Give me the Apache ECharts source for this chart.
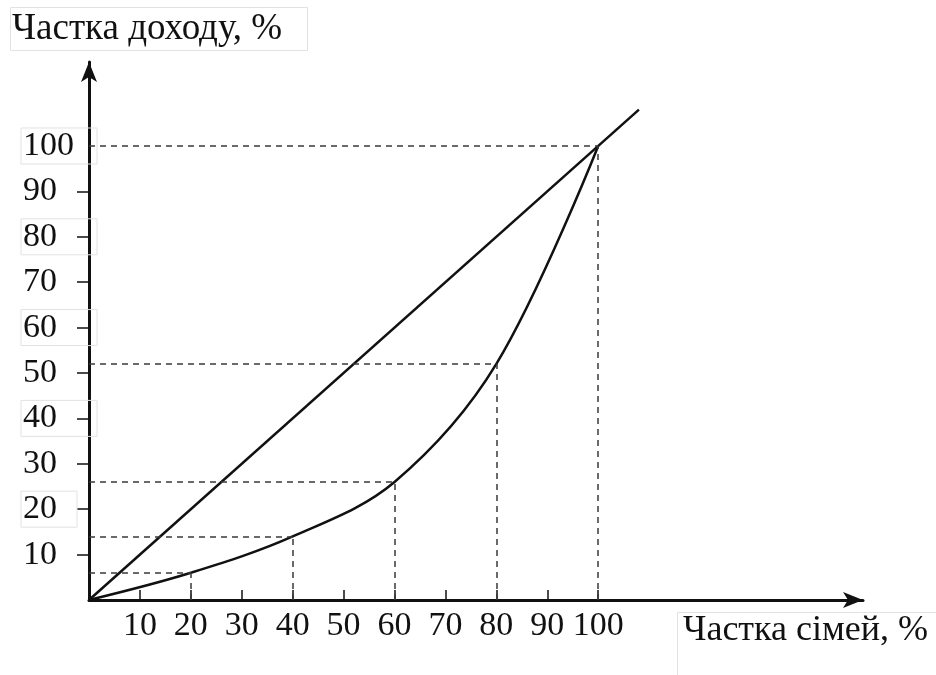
<!DOCTYPE html>
<html>
<head>
<meta charset="utf-8">
<script src="https://cdn.jsdelivr.net/npm/echarts@6/dist/echarts.min.js"></script>
<style>
  html, body { margin: 0; padding: 0; background: #fff; }
  #lorenz { width: 936px; height: 675px; }
</style>
</head>
<body>
<div id="lorenz"></div>
<script>
// крива Лоренца: частка сімей (%) -> частка доходу (%)
var lorenzPoints = [[0, 0], [20, 6], [40, 14], [60, 26], [80, 52], [100, 100]];
// лінія абсолютної рівності
var equalityLine = [[0, 0], [108, 108]];
var xTicks = [10, 20, 30, 40, 50, 60, 70, 80, 90, 100];
var yTicks = [10, 20, 30, 40, 50, 60, 70, 80, 90, 100];
var yBoxed = [20, 40, 60, 80, 100];

var serif = 'Liberation Serif';
var ink = '#111';

var myChart = echarts.init(document.getElementById('lorenz'));

// пунктирні лінії від точок кривої до осей
var guides = [];
lorenzPoints.slice(1).forEach(function (p) {
  guides.push([{ coord: [0, p[1]] }, { coord: [p[0], p[1]] }]);
  guides.push([{ coord: [p[0], 0] }, { coord: [p[0], p[1]] }]);
});

var option = {
  animation: false,
  backgroundColor: '#fff',
  title: [{
    text: 'Частка доходу, %',
    left: 10,
    top: 7,
    padding: [4, 26, 3, 2],
    borderColor: '#e2e2e2',
    borderWidth: 1,
    textStyle: { fontFamily: serif, fontSize: 37, fontWeight: 'normal', color: ink }
  }, {
    text: 'Частка сімей, %',
    left: 677,
    top: 612,
    padding: [1, 10, 40, 6],
    borderColor: '#e2e2e2',
    borderWidth: 1,
    textStyle: { fontFamily: serif, fontSize: 36, fontWeight: 'normal', color: ink }
  }],
  grid: { left: 89, top: 62, width: 774, height: 538 },
  xAxis: {
    type: 'value',
    min: 0,
    max: 152,
    splitLine: { show: false },
    axisLine: {
      lineStyle: { color: ink, width: 3 },
      symbol: ['none', 'arrow'],
      symbolSize: [12, 20]
    },
    axisTick: {
      show: true,
      inside: true,
      length: 10,
      customValues: xTicks,
      lineStyle: { color: ink, width: 1.5 }
    },
    axisLabel: {
      customValues: xTicks,
      margin: 9,
      fontFamily: serif,
      fontSize: 34,
      color: ink
    }
  },
  yAxis: {
    type: 'value',
    min: 0,
    max: 118.5,
    splitLine: { show: false },
    axisLine: {
      lineStyle: { color: ink, width: 3 },
      symbol: ['none', 'arrow'],
      symbolSize: [12, 20]
    },
    axisTick: {
      show: true,
      length: 12,
      customValues: yTicks.slice(0, 9),
      lineStyle: { color: ink, width: 1.5 }
    },
    axisLabel: {
      customValues: yTicks,
      align: 'left',
      margin: 68,
      fontFamily: serif,
      fontSize: 34,
      color: ink,
      formatter: function (v) {
        if (v === 20) return '{small|' + v + '}';
        return yBoxed.indexOf(v) >= 0 ? '{box|' + v + '}' : '{plain|' + v + '}';
      },
      rich: {
        box: {
          fontFamily: serif, fontSize: 34, color: ink,
          width: 74, padding: [1, 0, 1, 2],
          borderColor: '#e2e2e2', borderWidth: 1
        },
        small: {
          fontFamily: serif, fontSize: 34, color: ink,
          width: 54, padding: [1, 0, 1, 2],
          borderColor: '#e2e2e2', borderWidth: 1
        },
        plain: {
          fontFamily: serif, fontSize: 34, color: ink,
          padding: [1, 0, 1, 2]
        }
      }
    }
  },
  series: [{
    name: 'рівність',
    type: 'line',
    data: equalityLine,
    symbol: 'none',
    lineStyle: { color: ink, width: 2.5 }
  }, {
    name: 'Лоренц',
    type: 'line',
    data: lorenzPoints,
    symbol: 'none',
    smooth: 0.35,
    lineStyle: { color: ink, width: 2.5 },
    markLine: {
      silent: true,
      symbol: 'none',
      label: { show: false },
      lineStyle: { type: [6, 5], color: '#3a3a3a', width: 1.5 },
      data: guides
    }
  }]
};

myChart.setOption(option);
</script>
</body>
</html>
